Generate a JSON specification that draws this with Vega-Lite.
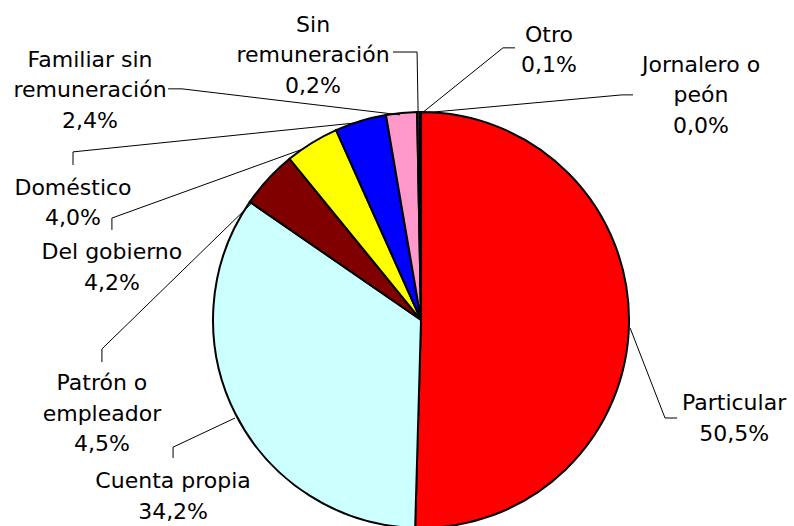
{
  "$schema": "https://vega.github.io/schema/vega-lite/v6.json",
  "width": 794,
  "height": 526,
  "autosize": {"type": "none"},
  "padding": 0,
  "background": "white",
  "config": {"view": {"stroke": null}},
  "datasets": {
    "slices": [
      {"category": "Particular", "pct": 50.5},
      {"category": "Cuenta propia", "pct": 34.2},
      {"category": "Patrón o empleador", "pct": 4.5},
      {"category": "Del gobierno", "pct": 4.2},
      {"category": "Doméstico", "pct": 4.0},
      {"category": "Familiar sin remuneración", "pct": 2.4},
      {"category": "Sin remuneración", "pct": 0.2},
      {"category": "Otro", "pct": 0.1},
      {"category": "Jornalero o peón", "pct": 0.0}
    ],
    "labels": [
      {"category": "Particular", "name": "Particular", "lx": 1.505, "ly": -0.433},
      {"category": "Cuenta propia", "name": "Cuenta propia", "lx": -1.192, "ly": -0.808},
      {"category": "Patrón o empleador", "name": "Patrón o\nempleador", "lx": -1.534, "ly": -0.337},
      {"category": "Del gobierno", "name": "Del gobierno", "lx": -1.486, "ly": 0.293},
      {"category": "Doméstico", "name": "Doméstico", "lx": -1.673, "ly": 0.601},
      {"category": "Familiar sin remuneración", "name": "Familiar sin\nremuneración", "lx": -1.591, "ly": 1.216},
      {"category": "Sin remuneración", "name": "Sin\nremuneración", "lx": -0.519, "ly": 1.385},
      {"category": "Otro", "name": "Otro", "lx": 0.615, "ly": 1.337},
      {"category": "Jornalero o peón", "name": "Jornalero o\npeón", "lx": 1.346, "ly": 1.192}
    ],
    "leaders": [
      {"category": "Particular", "seq": 1, "x": 1.005, "y": -0.038},
      {"category": "Particular", "seq": 2, "x": 1.173, "y": -0.471},
      {"category": "Particular", "seq": 3, "x": 1.231, "y": -0.471},
      {"category": "Cuenta propia", "seq": 1, "x": -0.894, "y": -0.471},
      {"category": "Cuenta propia", "seq": 2, "x": -1.192, "y": -0.611},
      {"category": "Cuenta propia", "seq": 3, "x": -1.192, "y": -0.663},
      {"category": "Patrón o empleador", "seq": 1, "x": -0.798, "y": 0.577},
      {"category": "Patrón o empleador", "seq": 2, "x": -1.534, "y": -0.139},
      {"category": "Patrón o empleador", "seq": 3, "x": -1.534, "y": -0.202},
      {"category": "Del gobierno", "seq": 1, "x": -0.567, "y": 0.822},
      {"category": "Del gobierno", "seq": 2, "x": -1.486, "y": 0.49},
      {"category": "Del gobierno", "seq": 3, "x": -1.486, "y": 0.433},
      {"category": "Doméstico", "seq": 1, "x": -0.317, "y": 0.947},
      {"category": "Doméstico", "seq": 2, "x": -1.673, "y": 0.808},
      {"category": "Doméstico", "seq": 3, "x": -1.673, "y": 0.745},
      {"category": "Familiar sin remuneración", "seq": 1, "x": -0.101, "y": 0.986},
      {"category": "Familiar sin remuneración", "seq": 2, "x": -1.149, "y": 1.111},
      {"category": "Familiar sin remuneración", "seq": 3, "x": -1.216, "y": 1.111},
      {"category": "Sin remuneración", "seq": 1, "x": -0.014, "y": 0.995},
      {"category": "Sin remuneración", "seq": 2, "x": -0.019, "y": 1.288},
      {"category": "Sin remuneración", "seq": 3, "x": -0.135, "y": 1.288},
      {"category": "Otro", "seq": 1, "x": 0.005, "y": 0.995},
      {"category": "Otro", "seq": 2, "x": 0.394, "y": 1.308},
      {"category": "Otro", "seq": 3, "x": 0.452, "y": 1.308},
      {"category": "Jornalero o peón", "seq": 1, "x": 0.01, "y": 0.995},
      {"category": "Jornalero o peón", "seq": 2, "x": 0.966, "y": 1.082},
      {"category": "Jornalero o peón", "seq": 3, "x": 1.019, "y": 1.082}
    ]
  },
  "layer": [
    {
      "data": {"name": "slices"},
      "mark": {"type": "arc", "outerRadius": 208, "stroke": "black", "strokeWidth": 2},
      "encoding": {
        "x": {"datum": 0, "type": "quantitative", "scale": {"domain": [-2.024, 1.793], "nice": false, "zero": false}, "axis": null},
        "y": {"datum": 0, "type": "quantitative", "scale": {"domain": [-0.99, 1.538], "nice": false, "zero": false}, "axis": null},
        "theta": {"field": "pct", "type": "quantitative", "stack": true},
        "order": {"field": "pct", "sort": "descending"},
        "color": {
          "field": "category",
          "type": "nominal",
          "legend": null,
          "scale": {
            "domain": ["Particular", "Cuenta propia", "Patrón o empleador", "Del gobierno", "Doméstico", "Familiar sin remuneración", "Sin remuneración", "Otro", "Jornalero o peón"],
            "range": ["#FF0000", "#CCFFFF", "#800000", "#FFFF00", "#0000FF", "#FF99CC", "#993366", "#FFFFCC", "#660066"]
          }
        }
      }
    },
    {
      "data": {"name": "leaders"},
      "mark": {"type": "line", "stroke": "black", "strokeWidth": 1},
      "encoding": {
        "x": {"field": "x", "type": "quantitative", "scale": {"domain": [-2.024, 1.793], "nice": false, "zero": false}, "axis": null},
        "y": {"field": "y", "type": "quantitative", "scale": {"domain": [-0.99, 1.538], "nice": false, "zero": false}, "axis": null},
        "detail": {"field": "category"},
        "order": {"field": "seq"}
      }
    },
    {
      "data": {"name": "labels"},
      "transform": [
        {"lookup": "category", "from": {"data": {"name": "slices"}, "key": "category", "fields": ["pct"]}},
        {"calculate": "datum.name + '\\n' + replace(format(datum.pct, '.1f'), '.', ',') + '%'", "as": "text"}
      ],
      "mark": {"type": "text", "font": "DejaVu Sans", "fontSize": 22, "align": "center", "baseline": "alphabetic", "lineBreak": "\n", "lineHeight": 30.5, "color": "black"},
      "encoding": {
        "x": {"field": "lx", "type": "quantitative", "scale": {"domain": [-2.024, 1.793], "nice": false, "zero": false}, "axis": null},
        "y": {"field": "ly", "type": "quantitative", "scale": {"domain": [-0.99, 1.538], "nice": false, "zero": false}, "axis": null},
        "text": {"field": "text"}
      }
    }
  ]
}
